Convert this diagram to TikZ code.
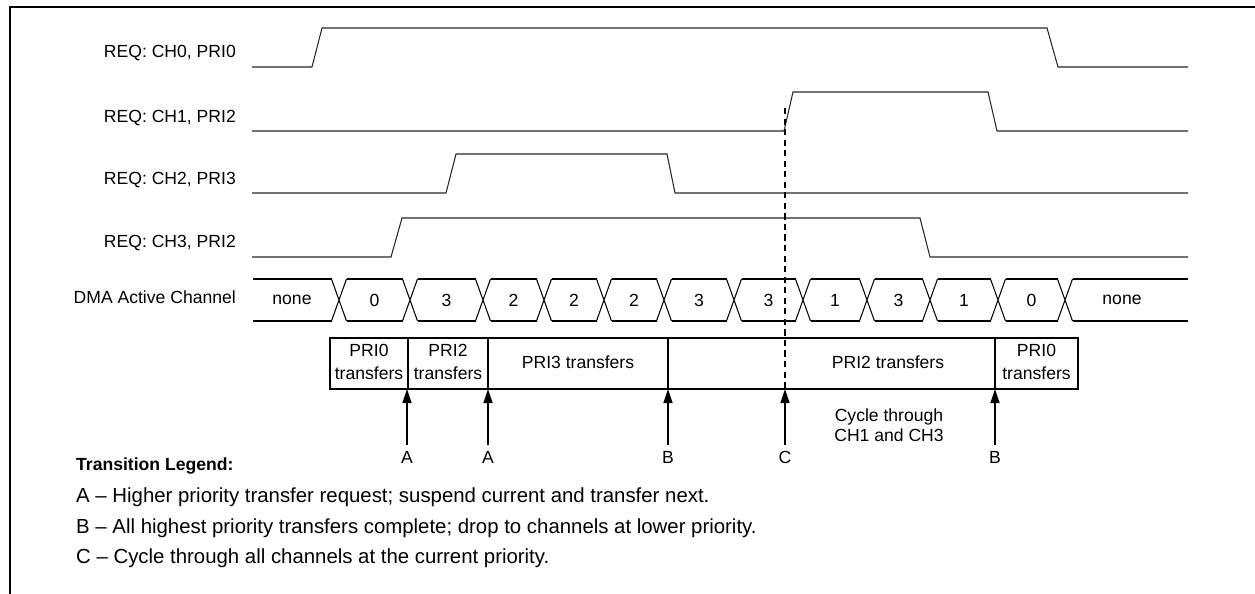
\documentclass[tikz,border=0pt]{standalone}
\usepackage{fontspec}
\setmainfont{Liberation Sans}
\usetikzlibrary{arrows.meta}

\begin{document}
\begin{tikzpicture}[x=0.02cm,y=-0.02cm,
    sig/.style={line width=0.6pt,black!85},
    bus/.style={line width=0.6pt},
    box/.style={line width=1.1pt},
    lbl/.style={font=\fontsize{10}{12}\selectfont},
    trans/.style={line width=1.2pt,-{Triangle[length=8pt,width=5pt]}},
    legend/.style={anchor=west,font=\fontsize{11.6}{14}\selectfont}]
  \useasboundingbox (0,0) rectangle (1255,594);
  % frame
  \draw[line width=1.3pt] (10,594) -- (10,7) -- (1255,7);

  % request lines
  \node[lbl,anchor=east] (req0) at (242,53) {REQ: CH0, PRI0};
  \node[lbl,anchor=east] (req1) at (242,118) {REQ: CH1, PRI2};
  \node[lbl,anchor=east] (req2) at (242,180) {REQ: CH2, PRI3};
  \node[lbl,anchor=east] (req3) at (242,243) {REQ: CH3, PRI2};
  \draw[sig] (252,67) -- (312,67) -- (322,28) -- (1047,28) -- (1058,67) -- (1188,67);
  \draw[sig] (252,131) -- (784,131) -- (793,92) -- (988,92) -- (997,131) -- (1188,131);
  \draw[sig] (252,193) -- (446,193) -- (456,154) -- (667,154) -- (675,193) -- (1188,193);
  \draw[sig] (252,257) -- (391,257) -- (402,218) -- (920,218) -- (930,257) -- (1188,257);

  % active channel bus
  \node[lbl,anchor=east] (dmalbl) at (242,297) {DMA Active Channel};
  \foreach \a/\b/\m/\v [count=\i] in {245.5/339/292/none,339/410/374.5/0,410/483/446.5/3,
      483/544/513.5/2,544/604/574/2,604/664/634/2,664/734/699/3,734/803/768.5/3,
      803/867/835/1,867/930/898.5/3,930/998/964/1,998/1065/1031.5/0,1065/1195.5/1122/none} {
    \draw[bus] ({\a+7.5},279) -- ({\b-7.5},279) ({\a+7.5},321) -- ({\b-7.5},321);
    \node[lbl] (dma\i) at (\m,300) {\v};
  }
  \foreach \c in {339,410,483,544,604,664,734,803,867,930,998,1065}
    \draw[bus] ({\c-7.5},279) -- ({\c+7.5},321) ({\c-7.5},321) -- ({\c+7.5},279);

  % priority boxes
  \draw[box] (330,338) rectangle (1078,389);
  \foreach \x in {408,488,668,995}
    \draw[box] (\x,338) -- (\x,389);
  \node[lbl,align=center,font=\fontsize{10}{13}\selectfont] (p0a) at (369,362) {PRI0\\transfers};
  \node[lbl,align=center,font=\fontsize{10}{13}\selectfont] (p2a) at (448,362) {PRI2\\transfers};
  \node[lbl] (p3) at (578,362) {PRI3 transfers};
  \node[lbl] (p2b) at (888,362) {PRI2 transfers};
  \node[lbl,align=center,font=\fontsize{10}{13}\selectfont] (p0b) at (1036.5,362) {PRI0\\transfers};

  \draw[line width=1pt,dash pattern=on 3.5pt off 2.5pt] (785,108) -- (785,389);

  % transitions
  \foreach \x/\t [count=\i] in {407/A,488/A,668/B,785/C,995/B} {
    \node[lbl] (tr\i) at (\x,457) {\t};
    \coordinate (hit\i) at (\x,389);
    \draw[trans] (tr\i) -- (hit\i);
  }
  \node[lbl,align=center,font=\fontsize{10}{11.5}\selectfont] (cyc) at (889,425) {Cycle through\\CH1 and CH3};

  % legend
  \node[legend,font=\fontsize{10}{12}\selectfont\bfseries] (leg) at (70,466) {Transition Legend:};
  \node[legend] (legA) at (70,497) {A -- Higher priority transfer request; suspend current and transfer next.};
  \node[legend] (legB) at (70,528) {B -- All highest priority transfers complete; drop to channels at lower priority.};
  \node[legend] (legC) at (70,558) {C -- Cycle through all channels at the current priority.};
\end{tikzpicture}
\end{document}
